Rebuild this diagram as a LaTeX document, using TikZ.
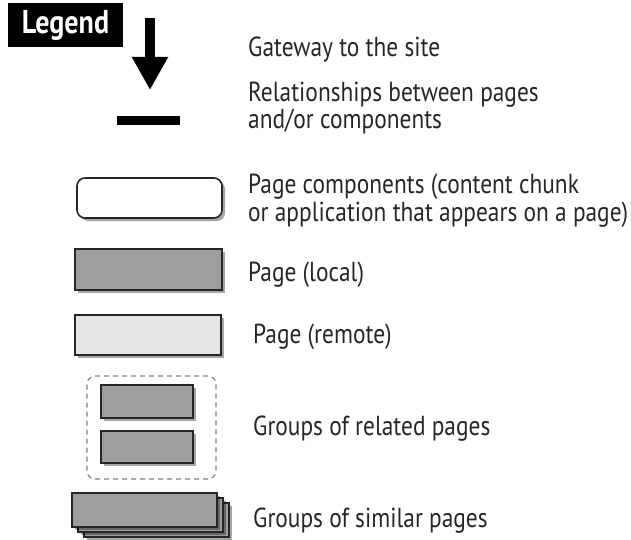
\documentclass[tikz,border=0pt]{standalone}
\usepackage{fontspec}
\setmainfont{PT Sans}[FakeStretch=0.85]
\usetikzlibrary{positioning, arrows.meta, shadows}
\tikzset{
  x=1pt, y=-1pt,
  softshadow/.style={drop shadow={shadow xshift=3pt, shadow yshift=-3pt, opacity=.35, fill=black}},
  legendbox/.style={fill=black, text=white, font=\fontsize{33}{35}\selectfont\bfseries, minimum width=115pt, minimum height=44pt, inner sep=0pt},
  gateway/.style={line width=10pt, -{Triangle[width=34pt, length=33pt]}},
  relation/.style={line width=9pt},
  component/.style={draw=black!85, line width=1.6pt, fill=white, rounded corners=8pt, softshadow, minimum width=145pt, minimum height=40pt, inner sep=0pt},
  localpage/.style={draw=black!85, line width=1.6pt, fill=black!38, softshadow, inner sep=0pt},
  remotepage/.style={localpage, fill=black!10},
  group/.style={draw=black!50, line width=1.2pt, dash pattern=on 5pt off 4pt, rounded corners=8pt, inner sep=0pt},
  desc/.style={anchor=base west, inner sep=0pt, text=black!85, align=left, font=\fontsize{27.5}{27.5}\selectfont},
}

\begin{document}
\begin{tikzpicture}
  \useasboundingbox (0,0) rectangle (631,540);

  % symbols
  \node[legendbox] (legend) at (65.5,25) {Legend};
  \coordinate (gwtop) at (150,18);
  \coordinate (gwtip) at (150,90);
  \draw[gateway] (gwtop) -- (gwtip);
  \coordinate (relleft) at (117,120.5);
  \coordinate (relright) at (180,120.5);
  \draw[relation] (relleft) -- (relright);
  \node[component] (comp) at (149.5,198) {};
  \node[localpage, minimum width=147pt, minimum height=41pt] (local) at (148.5,269.5) {};
  \node[remotepage, minimum width=146pt, minimum height=40pt] (remote) at (148,335) {};
  \node[group, minimum width=129pt, minimum height=103pt] (related) at (151.5,427.5) {};
  \node[localpage, minimum width=92pt, minimum height=33pt] (relA) at (147,401.5) {};
  \node[localpage, minimum width=92pt, minimum height=32pt] (relB) at (147,447) {};
  \node[localpage, minimum width=145pt, minimum height=34pt] (simC) at (156.5,520) {};
  \node[localpage, minimum width=145pt, minimum height=34pt] (simB) at (150.5,515) {};
  \node[localpage, minimum width=145pt, minimum height=34pt] (simA) at (144.5,510) {};

  % descriptions
  \node[desc] (gwtxt) at (248,57) {Gateway to the site};
  \node[desc] (reltxt) at (248,129) {Relationships between pages\\and/or components};
  \node[desc] (comptxt) at (248,221) {Page components (content chunk\\or application that appears on a page)};
  \node[desc] (localtxt) at (248,281) {Page (local)};
  \node[desc] (remotetxt) at (253,343) {Page (remote)};
  \node[desc] (relatedtxt) at (253,435) {Groups of related pages};
  \node[desc] (similartxt) at (253,527) {Groups of similar pages};
\end{tikzpicture}
\end{document}
